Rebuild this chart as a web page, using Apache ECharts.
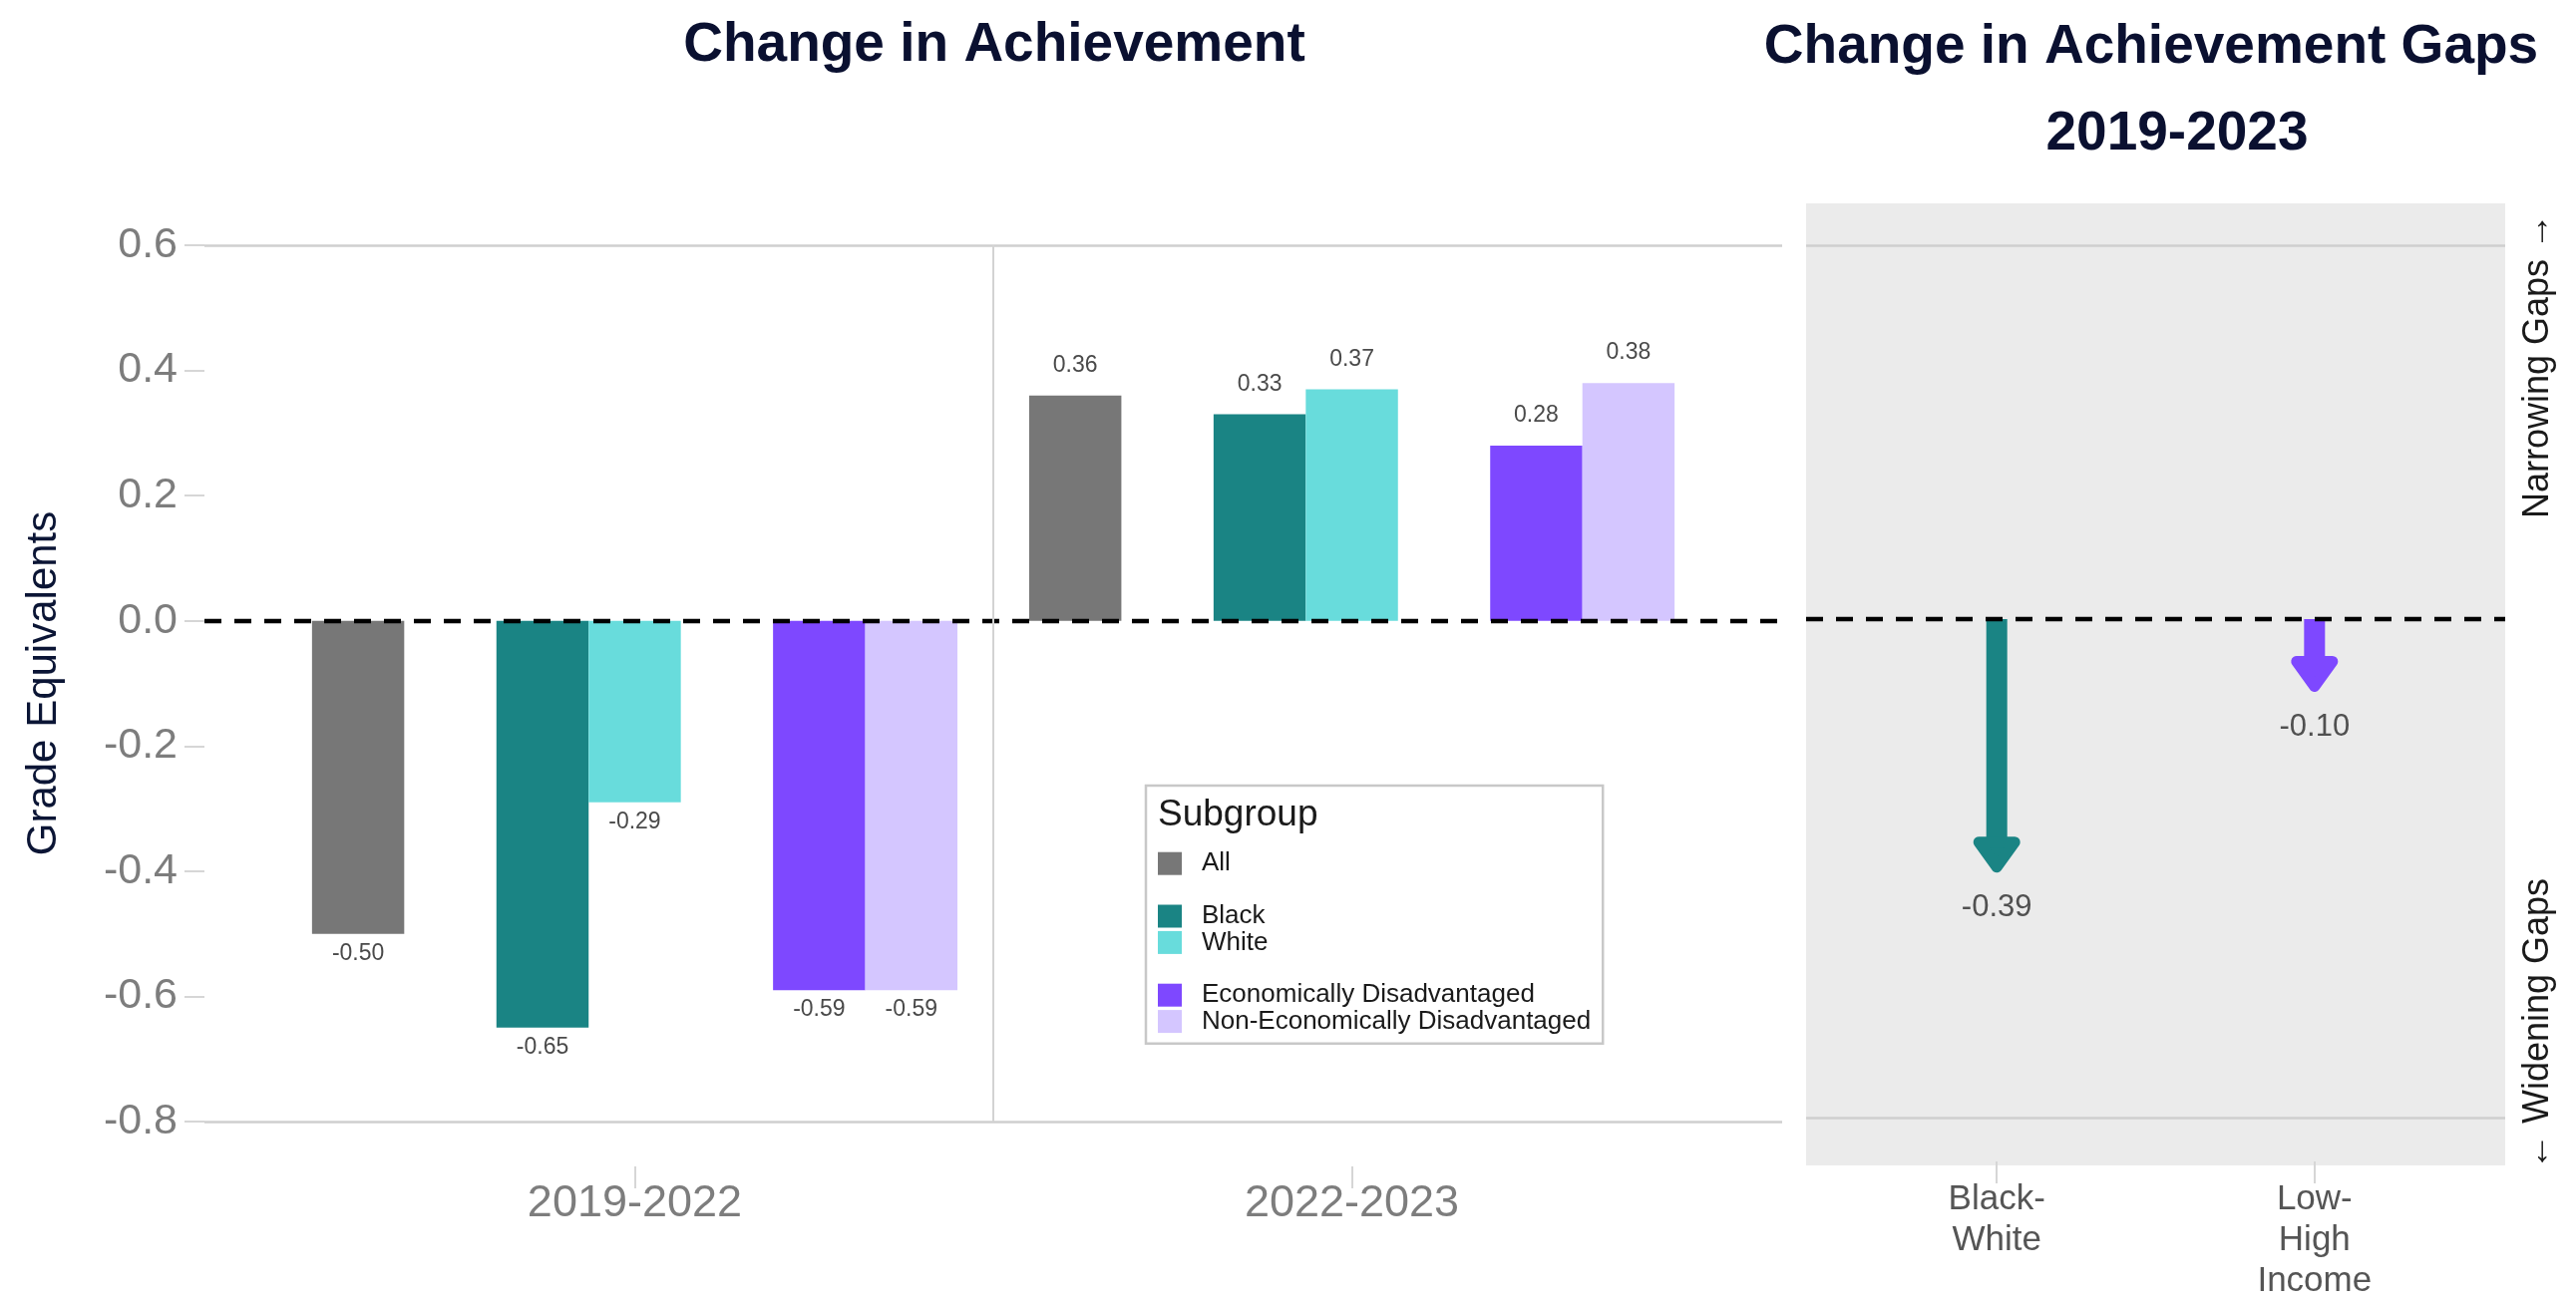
<!DOCTYPE html>
<html>
<head>
<meta charset="utf-8">
<script src="https://cdn.jsdelivr.net/npm/echarts@6/dist/echarts.min.js"></script>
<style>
  html, body { margin: 0; padding: 0; background: #fff; }
  #chart { width: 2583px; height: 1306px; }
</style>
</head>
<body>
<div id="chart"></div>
<script>
// periods on the left panel
const periods = ['2019-2022', '2022-2023'];
// blank names are spacer levels used for dodging (as in the original plot)
const subgroups = ['All', ' ', 'Black', 'White', '  ', 'Economically Disadvantaged', 'Non-Economically Disadvantaged'];
const subgroupColors = ['#777777', 'rgba(0,0,0,0)', '#1a8484', '#68dcdc', 'rgba(0,0,0,0)', '#7e48ff', '#d4c6ff'];
const allValues = [-0.50, 0.36];
const blackValues = [-0.65, 0.33];
const whiteValues = [-0.29, 0.37];
const econValues = [-0.59, 0.28];
const nonEconValues = [-0.59, 0.38];
const subgroupValues = [allValues, [], blackValues, whiteValues, [], econValues, nonEconValues];

// right panel
const gapLabels = ['Black-\nWhite', 'Low-\nHigh\nIncome'];
const gapValues = [-0.39, -0.10];
const gapColors = ['#1a8484', '#7e48ff'];

// only the outer breaks get a grid line
const gridBreaks = [0.6, -0.8];

const FONT = '"Liberation Sans", Arial, sans-serif';
const slotWidth = 0.9 / subgroups.length;

function renderBar(slot) {
  return function (params, api) {
    const x = api.value(0) + slot * slotWidth;
    const v = api.value(1);
    const base = api.coord([x, 0]);
    const end = api.coord([x, v]);
    const w = api.size([slotWidth, 0])[0];
    return {
      type: 'group',
      children: [{
        type: 'rect',
        shape: { x: base[0] - w / 2, y: Math.min(base[1], end[1]), width: w, height: Math.abs(end[1] - base[1]) },
        style: { fill: subgroupColors[slot + 3] }
      }, {
        type: 'text',
        x: base[0],
        y: end[1] + (v < 0 ? 20 : -30),
        style: {
          text: v.toFixed(2), fill: '#4a4a4a', font: '23px ' + FONT,
          align: 'center', verticalAlign: 'middle'
        }
      }]
    };
  };
}

function renderGap(params, api) {
  const x = api.value(0);
  const v = api.value(1);
  const base = api.coord([x, 0]);
  const end = api.coord([x, v]);
  const color = gapColors[params.dataIndex];
  const headLen = 20, headHalf = 18, shaftHalf = 10.5;
  return {
    type: 'group',
    children: [{
      type: 'rect',
      shape: { x: base[0] - shaftHalf, y: base[1], width: shaftHalf * 2, height: end[1] - base[1] - headLen + 2 },
      style: { fill: color }
    }, {
      type: 'polygon',
      shape: { points: [[base[0] - headHalf, end[1] - headLen], [base[0] + headHalf, end[1] - headLen], [base[0], end[1] + 5]] },
      style: { fill: color, stroke: color, lineWidth: 11, lineJoin: 'round' }
    }, {
      type: 'text',
      x: base[0],
      y: end[1] + 46,
      style: {
        text: v.toFixed(2), fill: '#505050', font: '31px ' + FONT,
        align: 'center', verticalAlign: 'middle'
      }
    }]
  };
}

const zeroLine = { yAxis: 0, lineStyle: { color: '#000', width: 4.3, type: [17, 13] } };
const breakLines = gridBreaks.map(b => ({ yAxis: b, lineStyle: { color: '#cfcfcf', width: 2.5, type: 'solid' } }));

const barSeries = subgroups.map((name, i) => ({
  name: name,
  type: 'custom',
  xAxisIndex: 0,
  yAxisIndex: 0,
  itemStyle: { color: subgroupColors[i] },
  renderItem: renderBar(i - 3),
  data: subgroupValues[i].map((v, k) => [k + 1, v]),
  z: 2
}));

barSeries[0].markLine = {
  silent: true,
  symbol: 'none',
  label: { show: false },
  z: 5,
  data: breakLines.concat([
    zeroLine,
    [{ coord: [1.5, -0.8], lineStyle: { color: '#d3d3d3', width: 2, type: 'solid' } }, { coord: [1.5, 0.6] }]
  ])
};

const gapSeries = {
  name: 'gaps',
  type: 'custom',
  xAxisIndex: 1,
  yAxisIndex: 1,
  renderItem: renderGap,
  data: gapValues.map((v, i) => [i + 1, v]),
  z: 3,
  markLine: {
    silent: true,
    symbol: 'none',
    label: { show: false },
    data: breakLines.concat([zeroLine])
  }
};

const tickStyle = { color: '#d6d6d6', width: 2 };

const option = {
  animation: false,
  backgroundColor: '#ffffff',
  textStyle: { fontFamily: FONT },
  grid: [
    { left: 205, top: 246, width: 1582, height: 879 },
    { left: 1811, top: 246, width: 701, height: 879 },
    { left: 1811, top: 204, width: 701, height: 965, show: true, backgroundColor: '#ebebeb', borderWidth: 0, z: 0 }
  ],
  xAxis: [{
    type: 'value', gridIndex: 0, min: 0.4, max: 2.6, offset: 45,
    axisLine: { show: false, onZero: false },
    axisTick: { show: true, length: 22, lineStyle: tickStyle, customValues: [1, 2] },
    axisLabel: {
      customValues: [1, 2], margin: 15, fontSize: 45, color: '#7d7d7d',
      formatter: v => periods[Math.round(v) - 1]
    },
    splitLine: { show: false }
  }, {
    type: 'value', gridIndex: 1, min: 0.4, max: 2.6, offset: 44,
    axisLine: { show: false, onZero: false },
    axisTick: { show: true, length: 22, lineStyle: tickStyle, customValues: [1, 2] },
    axisLabel: {
      customValues: [1, 2], margin: 18, fontSize: 35, lineHeight: 41, color: '#555555',
      formatter: v => gapLabels[Math.round(v) - 1]
    },
    splitLine: { show: false }
  }, {
    type: 'value', gridIndex: 2, show: false
  }],
  yAxis: [{
    type: 'value', gridIndex: 0, min: -0.8, max: 0.6, interval: 0.2,
    name: 'Grade Equivalents', nameLocation: 'middle', nameGap: 140, nameRotate: 90,
    nameTextStyle: { fontSize: 42, color: '#0b1535' },
    axisLine: { show: false },
    axisTick: { show: true, length: 20, lineStyle: tickStyle },
    axisLabel: { margin: 27, fontSize: 43, color: '#7d7d7d', formatter: v => v.toFixed(1) },
    splitLine: { show: false }
  }, {
    type: 'value', gridIndex: 1, min: -0.8, max: 0.6,
    axisLine: { show: false }, axisTick: { show: false }, axisLabel: { show: false },
    splitLine: { show: false }
  }, {
    type: 'value', gridIndex: 2, show: false
  }],
  legend: {
    orient: 'vertical',
    left: 1149,
    top: 788,
    data: subgroups.map(name => ({ name: name, icon: 'rect' })),
    itemWidth: 24,
    itemHeight: 23,
    itemGap: 0,
    padding: [65, 12, 9, 12],
    borderColor: '#c8c8c8',
    borderWidth: 2.5,
    backgroundColor: '#ffffff',
    selectedMode: false,
    textStyle: { fontSize: 26, lineHeight: 26.4, color: '#1a1a1a', padding: [0, 0, 0, 15] }
  },
  graphic: [
    { type: 'text', x: 997, y: 46, style: { text: 'Change in Achievement', font: 'bold 55px ' + FONT, fill: '#0a1030', align: 'center', verticalAlign: 'middle' } },
    { type: 'text', x: 2157, y: 48, style: { text: 'Change in Achievement Gaps', font: 'bold 55px ' + FONT, fill: '#0a1030', align: 'center', verticalAlign: 'middle' } },
    { type: 'text', x: 2183, y: 135, style: { text: '2019-2023', font: 'bold 55px ' + FONT, fill: '#0a1030', align: 'center', verticalAlign: 'middle' } },
    { type: 'text', x: 1161, y: 818, z: 10, style: { text: 'Subgroup', font: '37px ' + FONT, fill: '#1a1a1a', align: 'left', verticalAlign: 'middle' } },
    { type: 'text', x: 2545, y: 367, rotation: Math.PI / 2, style: { text: 'Narrowing Gaps \u2192', font: '36px ' + FONT, fill: '#1a1a1a', align: 'center', verticalAlign: 'middle' } },
    { type: 'text', x: 2545, y: 1027, rotation: Math.PI / 2, style: { text: '\u2190 Widening Gaps', font: '36px ' + FONT, fill: '#1a1a1a', align: 'center', verticalAlign: 'middle' } }
  ],
  series: barSeries.concat([gapSeries])
};

const chart = echarts.init(document.getElementById('chart'));
chart.setOption(option);
</script>
</body>
</html>
